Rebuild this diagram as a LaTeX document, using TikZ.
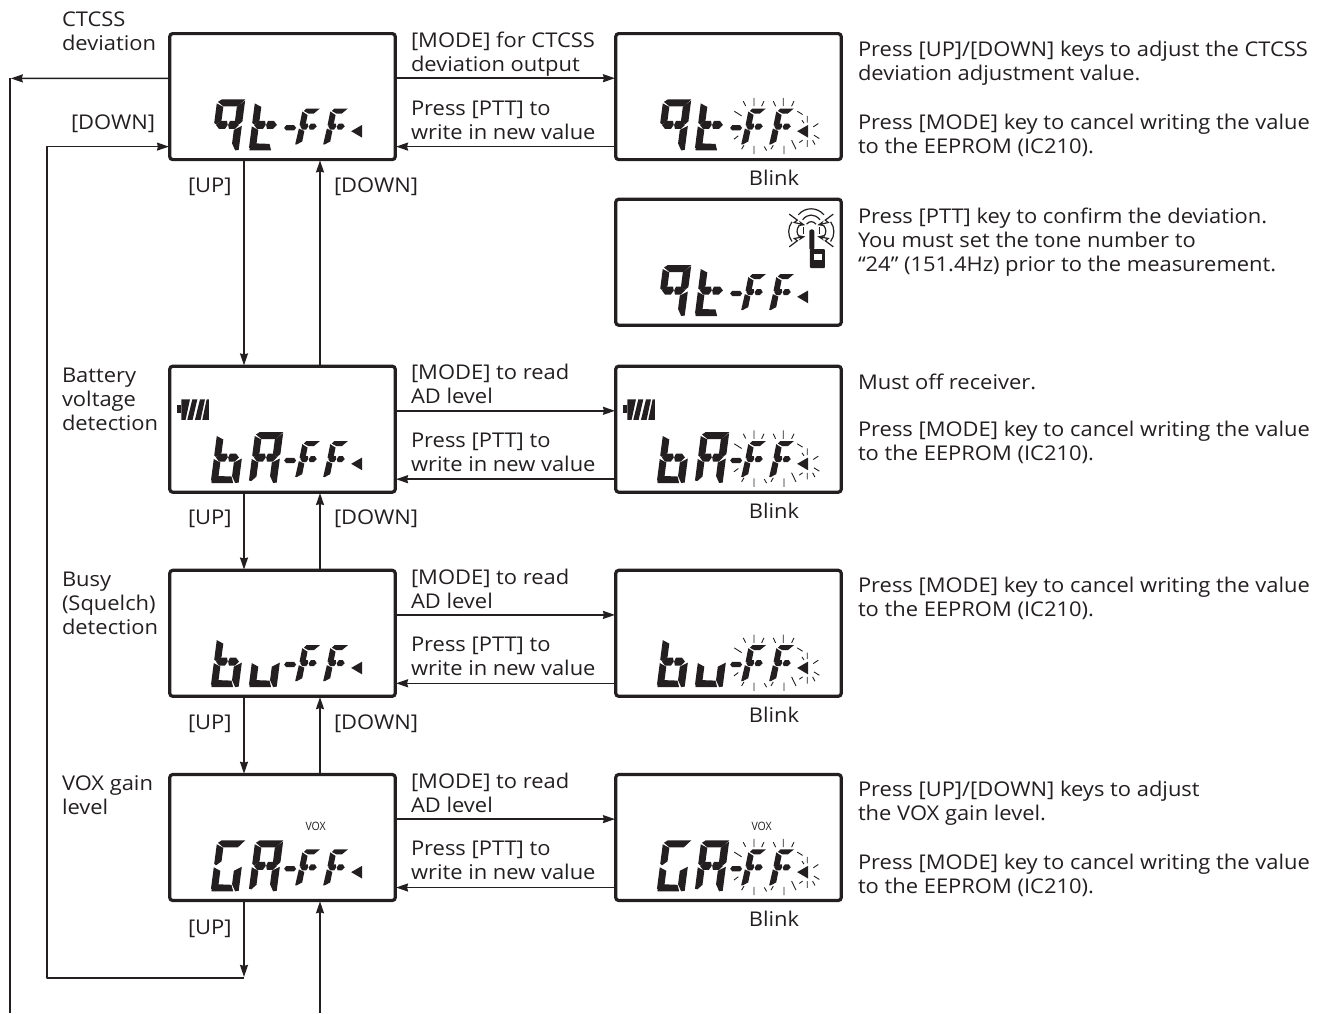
\documentclass[tikz,border=0pt]{standalone}
\usepackage{fontspec}
\setmainfont[FakeStretch=1.08]{Open Sans}
\usetikzlibrary{arrows.meta}
\definecolor{ink}{HTML}{231F20}
\tikzset{
  x=1pt,y=-1pt,
  lcd/.style={draw=ink,line width=3.2pt,rounded corners=3pt,minimum width=225.5pt,minimum height=126pt,inner sep=0pt,outer sep=0pt},
  arr/.style={draw=ink,line width=1.6pt,line join=round,-{Stealth[length=12pt,width=8pt,inset=1pt]},shorten >=0.8pt},
  plain/.style={draw=ink,line width=1.6pt,line join=round},
  lbl/.style={text=ink,align=left,anchor=base west,inner sep=0pt,outer sep=0pt,yshift=-1pt,font=\fontsize{20.3}{24}\selectfont},
  ray/.style={draw=ink,line width=0.9pt},
  ant/.style={draw=ink,line width=1.2pt},
}
% big character segments (upright, before slant)
\newcommand\bsa{\fill[ink] (1.5,48.5)--(5,51)--(28.5,51)--(22,44)--(7.5,44)--cycle;}
\newcommand\bsf{\fill[ink] (0.5,47)--(7.5,43.5)--(7.5,30)--(2.5,26)--(0.5,27.5)--cycle;}
\newcommand\bsb{\fill[ink] (28.5,50)--(28.5,29)--(25.5,26)--(21,29.5)--(21,43.5)--cycle;}
\newcommand\bsgl{\fill[ink] (2.5,25.5)--(6,29.5)--(13,29.5)--(14.3,25.5)--(12,21.5)--(6,21.5)--cycle;}
\newcommand\bsgr{\fill[ink] (14.7,25.5)--(16,29.5)--(22,29.5)--(25.5,25.5)--(22,21.5)--(16,21.5)--cycle;}
\newcommand\bse{\fill[ink] (0.5,24)--(7.5,20.5)--(7.5,6.5)--(3,2)--(0.5,2.5)--cycle;}
\newcommand\bsc{\fill[ink] (28.5,24.5)--(21,20.5)--(21,7)--(25,0)--(28.5,0.5)--cycle;}
\newcommand\bsd{\fill[ink] (1,1.5)--(1.5,0)--(23,0)--(20.5,6.5)--(7,7)--cycle;}
\newcommand\bigchar[3]{\begin{scope}[shift={(#1,#2)},xslant=.13]\foreach \s in {#3}{\csname bs\s\endcsname}\end{scope}}
% small F
\newcommand\smallF[1]{\begin{scope}[shift={(#1,16.7)},xslant=.2]
 \fill[ink] (2,33.5)--(4,36)--(17.5,36)--(12.5,31)--(7,31)--cycle;
 \fill[ink] (0.5,33)--(6.5,29.5)--(6.5,21)--(2,18.5)--(0.5,19.5)--cycle;
 \fill[ink] (1.5,18)--(4,21)--(8.5,21)--(9.5,18)--(8,15)--(4,15)--cycle;
 \fill[ink] (10,18)--(11.5,21)--(15.5,21)--(18,18)--(15.5,15)--(11.5,15)--cycle;
 \fill[ink] (0.5,16)--(6.5,13.5)--(6.5,3)--(1.5,0)--(0,0.2)--cycle;
\end{scope}}
% common part: dash, FF, marker
\newcommand\ffpart{%
 \fill[ink] (116,33.3)--(118,36)--(126,36)--(128,33.3)--(126,30.8)--(118,30.8)--cycle;
 \smallF{127}\smallF{155}
 \fill[ink] (183,30)--(194,36.3)--(194,23.5)--cycle;}
\newcommand\zoomscope[1]{\begin{scope}[x=.33333pt,y=-.33333pt,shift={(-4.2pt,136pt)}]#1\end{scope}}
\newcommand\blinkrays{\zoomscope{
 \draw[ray] (432,218)--(432,243) (400,228)--(407,242) (462,228)--(455,243) (373,258)--(395,272)
  (372,342)--(385,332) (395,372)--(402,360) (432,362)--(432,387) (463,364)--(470,376)
  (520,218)--(520,243) (490,228)--(497,243) (552,228)--(545,243) (483,372)--(490,360)
  (522,362)--(522,387) (545,345)--(558,372) (562,258)--(578,268)
  (592,272)--(592,292) (576,285)--(582,294) (610,305)--(625,295) (612,330)--(628,340)
  (592,345)--(592,365) (568,352)--(578,345) (608,345)--(615,358);}}
\newcommand\battery{\zoomscope{
 \fill[ink] (38,143) rectangle (50,165);
 \fill[ink] (52,125)--(78,125)--(65,186)--(52,186)--cycle;
 \fill[ink] (85,125)--(100,125)--(86,186)--(70,186)--cycle;
 \fill[ink] (108,125)--(123,125)--(110,186)--(93,186)--cycle;
 \fill[ink] (128,125)--(135,125)--(135,186)--(115,186)--cycle;}}
\begin{document}
\begin{tikzpicture}
\useasboundingbox (0,0) rectangle (1320,1013);
% frames
\node[lcd] (l1) at (282.5,96.6) {};
\node[lcd] (l2) at (282.5,429.2) {};
\node[lcd] (l3) at (282.5,633.3) {};
\node[lcd] (l4) at (282.5,837.5) {};
\node[lcd] (r1) at (728.5,96.6) {};
\node[lcd] (r1b) at (728.5,262.2) {};
\node[lcd] (r2) at (728.5,429.2) {};
\node[lcd] (r3) at (728.5,633.3) {};
\node[lcd] (r4) at (728.5,837.5) {};
% display contents, in frame-local coordinates with y upwards
\foreach \f in {l1,r1,r1b}{
 \begin{scope}[shift={([shift={(-1.6pt,-1.6pt)}]\f.south west)},y=1pt]
  \bigchar{42}{10.8}{a,f,b,gl,gr,c}
  \bigchar{80}{10.8}{f,gl,gr,e,d}
  \ffpart
 \end{scope}}
\foreach \f in {l2,r2}{
 \begin{scope}[shift={([shift={(-1.6pt,-1.6pt)}]\f.south west)},y=1pt]
  \bigchar{42}{10.8}{f,gl,gr,e,d,c}
  \bigchar{80}{10.8}{a,f,b,gl,gr,e,c}
  \ffpart
  \battery
 \end{scope}}
\foreach \f in {l3,r3}{
 \begin{scope}[shift={([shift={(-1.6pt,-1.6pt)}]\f.south west)},y=1pt]
  \bigchar{42}{10.8}{f,gl,gr,e,d,c}
  \bigchar{80}{10.8}{e,d,c}
  \ffpart
 \end{scope}}
\foreach \f in {l4,r4}{
 \begin{scope}[shift={([shift={(-1.6pt,-1.6pt)}]\f.south west)},y=1pt]
  \bigchar{42}{10.8}{a,f,e,d,c}
  \bigchar{80}{10.8}{a,f,b,gl,gr,e,c}
  \ffpart
 \end{scope}
 \node[text=ink,inner sep=0pt,font=\fontsize{11.5}{12}\selectfont] (vox\f) at ([shift={(-1.6pt,-1.6pt)}]\f.south west) [xshift=147.5pt,yshift=75.7pt] {\scalebox{.85}[1]{VOX}};}
\foreach \f in {r1,r2,r3,r4}{
 \begin{scope}[shift={([shift={(-1.6pt,-1.6pt)}]\f.south west)},y=1pt]
  \blinkrays
 \end{scope}}
% antenna icon
\begin{scope}[shift={([shift={(-1.6pt,-1.6pt)}]r1b.south west)},y=1pt]
 \zoomscope{
  \fill[ink,rounded corners=1pt] (600,175) rectangle (645,232);
  \fill[ink,rounded corners=2pt] (598,116) rectangle (613,178);
  \fill[white] (612,190) rectangle (635,208);
  \draw[ant] (565,72) .. controls (585,48) and (622,48) .. (642,72);
  \draw[ant] (578,87) .. controls (592,68) and (615,68) .. (630,87);
  \draw[ant] (590,100) .. controls (598,90) and (610,90) .. (618,100);
  \draw[ant] (546,93) .. controls (533,110) and (533,135) .. (546,152);
  \draw[ant] (568,104) .. controls (559,115) and (559,127) .. (568,138);
  \draw[ant] (581,110) -- (581,130);
  \draw[ant] (662,93) .. controls (675,110) and (675,135) .. (662,152);
  \draw[ant] (641,104) .. controls (650,115) and (650,127) .. (641,138);
  \draw[ant] (628,110) -- (628,130);
  \draw[ant,-{Stealth[length=7pt,width=5.5pt]}] (538,70)--(562,88)--(553,95)--(586,103);
  \draw[ant,-{Stealth[length=7pt,width=5.5pt]}] (670,70)--(646,88)--(655,95)--(622,103);
  \draw[ant,-{Stealth[length=7pt,width=5.5pt]}] (538,168)--(562,150)--(553,143)--(586,137);
  \draw[ant,-{Stealth[length=7pt,width=5.5pt]}] (670,168)--(646,150)--(655,143)--(622,137);
 }
\end{scope}
% horizontal connectors between frames
\foreach \a/\b in {l1/r1,l2/r2,l3/r3,l4/r4}{
 \draw[arr] ([yshift=18.4pt]\a.east) -- ([yshift=18.4pt]\b.west);
 \draw[arr] ([yshift=-50pt]\b.west) -- ([yshift=-50pt]\a.east);}
% vertical connectors
\foreach \a/\b in {l1/l2,l2/l3,l3/l4}{
 \draw[arr] ([xshift=-38.5pt]\a.south) -- ([xshift=-38.5pt]\b.north);
 \draw[arr] ([xshift=37.5pt]\b.north) -- ([xshift=37.5pt]\a.south);}
% outer loops
\coordinate (farcorner) at (10,78.4);
\coordinate (farend) at (10,1013);
\draw[arr] ([yshift=18.2pt]l1.west) -- (farcorner);
\draw[plain] (farcorner) -- (farend);
\coordinate (upend) at (244,977.7);
\coordinate (loopbl) at (47,977.7);
\coordinate (looptl) at (47,146.6);
\coordinate (bottomstart) at (320,1013);
\draw[arr] ([xshift=-38.5pt]l4.south) -- (upend);
\draw[arr] (upend) -- (loopbl) -- (looptl) -- ([yshift=-50pt]l1.west);
\draw[arr] (bottomstart) -- ([xshift=37.5pt]l4.south);
% labels: left column
\node[lbl] (t1) at (62,49) {CTCSS\\deviation};
\node[lbl] (t2) at (62,429) {Battery\\voltage\\detection};
\node[lbl] (t3) at (62,633) {Busy\\(Squelch)\\detection};
\node[lbl] (t4) at (62,813) {VOX gain\\level};
\node[lbl] (tdn) at (71,128.5) {[DOWN]};
% labels: up/down
\foreach \n/\y in {a/191,b/523,c/728,d/933}{\node[lbl] (up\n) at (188,\y) {[UP]};}
\foreach \n/\y in {a/191,b/523,c/728}{\node[lbl] (dn\n) at (334,\y) {[DOWN]};}
% labels: between frames
\node[lbl] (m1) at (411,70) {[MODE] for CTCSS\\deviation output};
\node[lbl] (p1) at (411,138) {Press [PTT] to\\write in new value};
\node[lbl] (m2) at (411,402.5) {[MODE] to read\\AD level};
\node[lbl] (p2) at (411,470) {Press [PTT] to\\write in new value};
\node[lbl] (m3) at (411,607.5) {[MODE] to read\\AD level};
\node[lbl] (p3) at (411,674) {Press [PTT] to\\write in new value};
\node[lbl] (m4) at (411,811.5) {[MODE] to read\\AD level};
\node[lbl] (p4) at (411,878) {Press [PTT] to\\write in new value};
% Blink
\foreach \n/\y in {a/184,b/517,c/721,d/925}{\node[lbl,anchor=base] (bl\n) at (774,\y) {Blink};}
% right column
\node[lbl] (n1) at (858,79) {Press [UP]/[DOWN] keys to adjust the CTCSS\\deviation adjustment value.};
\node[lbl] (n2) at (858,152) {Press [MODE] key to cancel writing the value\\to the EEPROM (IC210).};
\node[lbl] (n3) at (858,270) {Press [PTT] key to confirm the deviation.\\You must set the tone number to\\“24” (151.4Hz) prior to the measurement.};
\node[lbl] (n4) at (858,388) {Must off receiver.};
\node[lbl] (n5) at (858,459) {Press [MODE] key to cancel writing the value\\to the EEPROM (IC210).};
\node[lbl] (n6) at (858,615) {Press [MODE] key to cancel writing the value\\to the EEPROM (IC210).};
\node[lbl] (n7) at (858,819) {Press [UP]/[DOWN] keys to adjust\\the VOX gain level.};
\node[lbl] (n8) at (858,892) {Press [MODE] key to cancel writing the value\\to the EEPROM (IC210).};
\end{tikzpicture}
\end{document}
